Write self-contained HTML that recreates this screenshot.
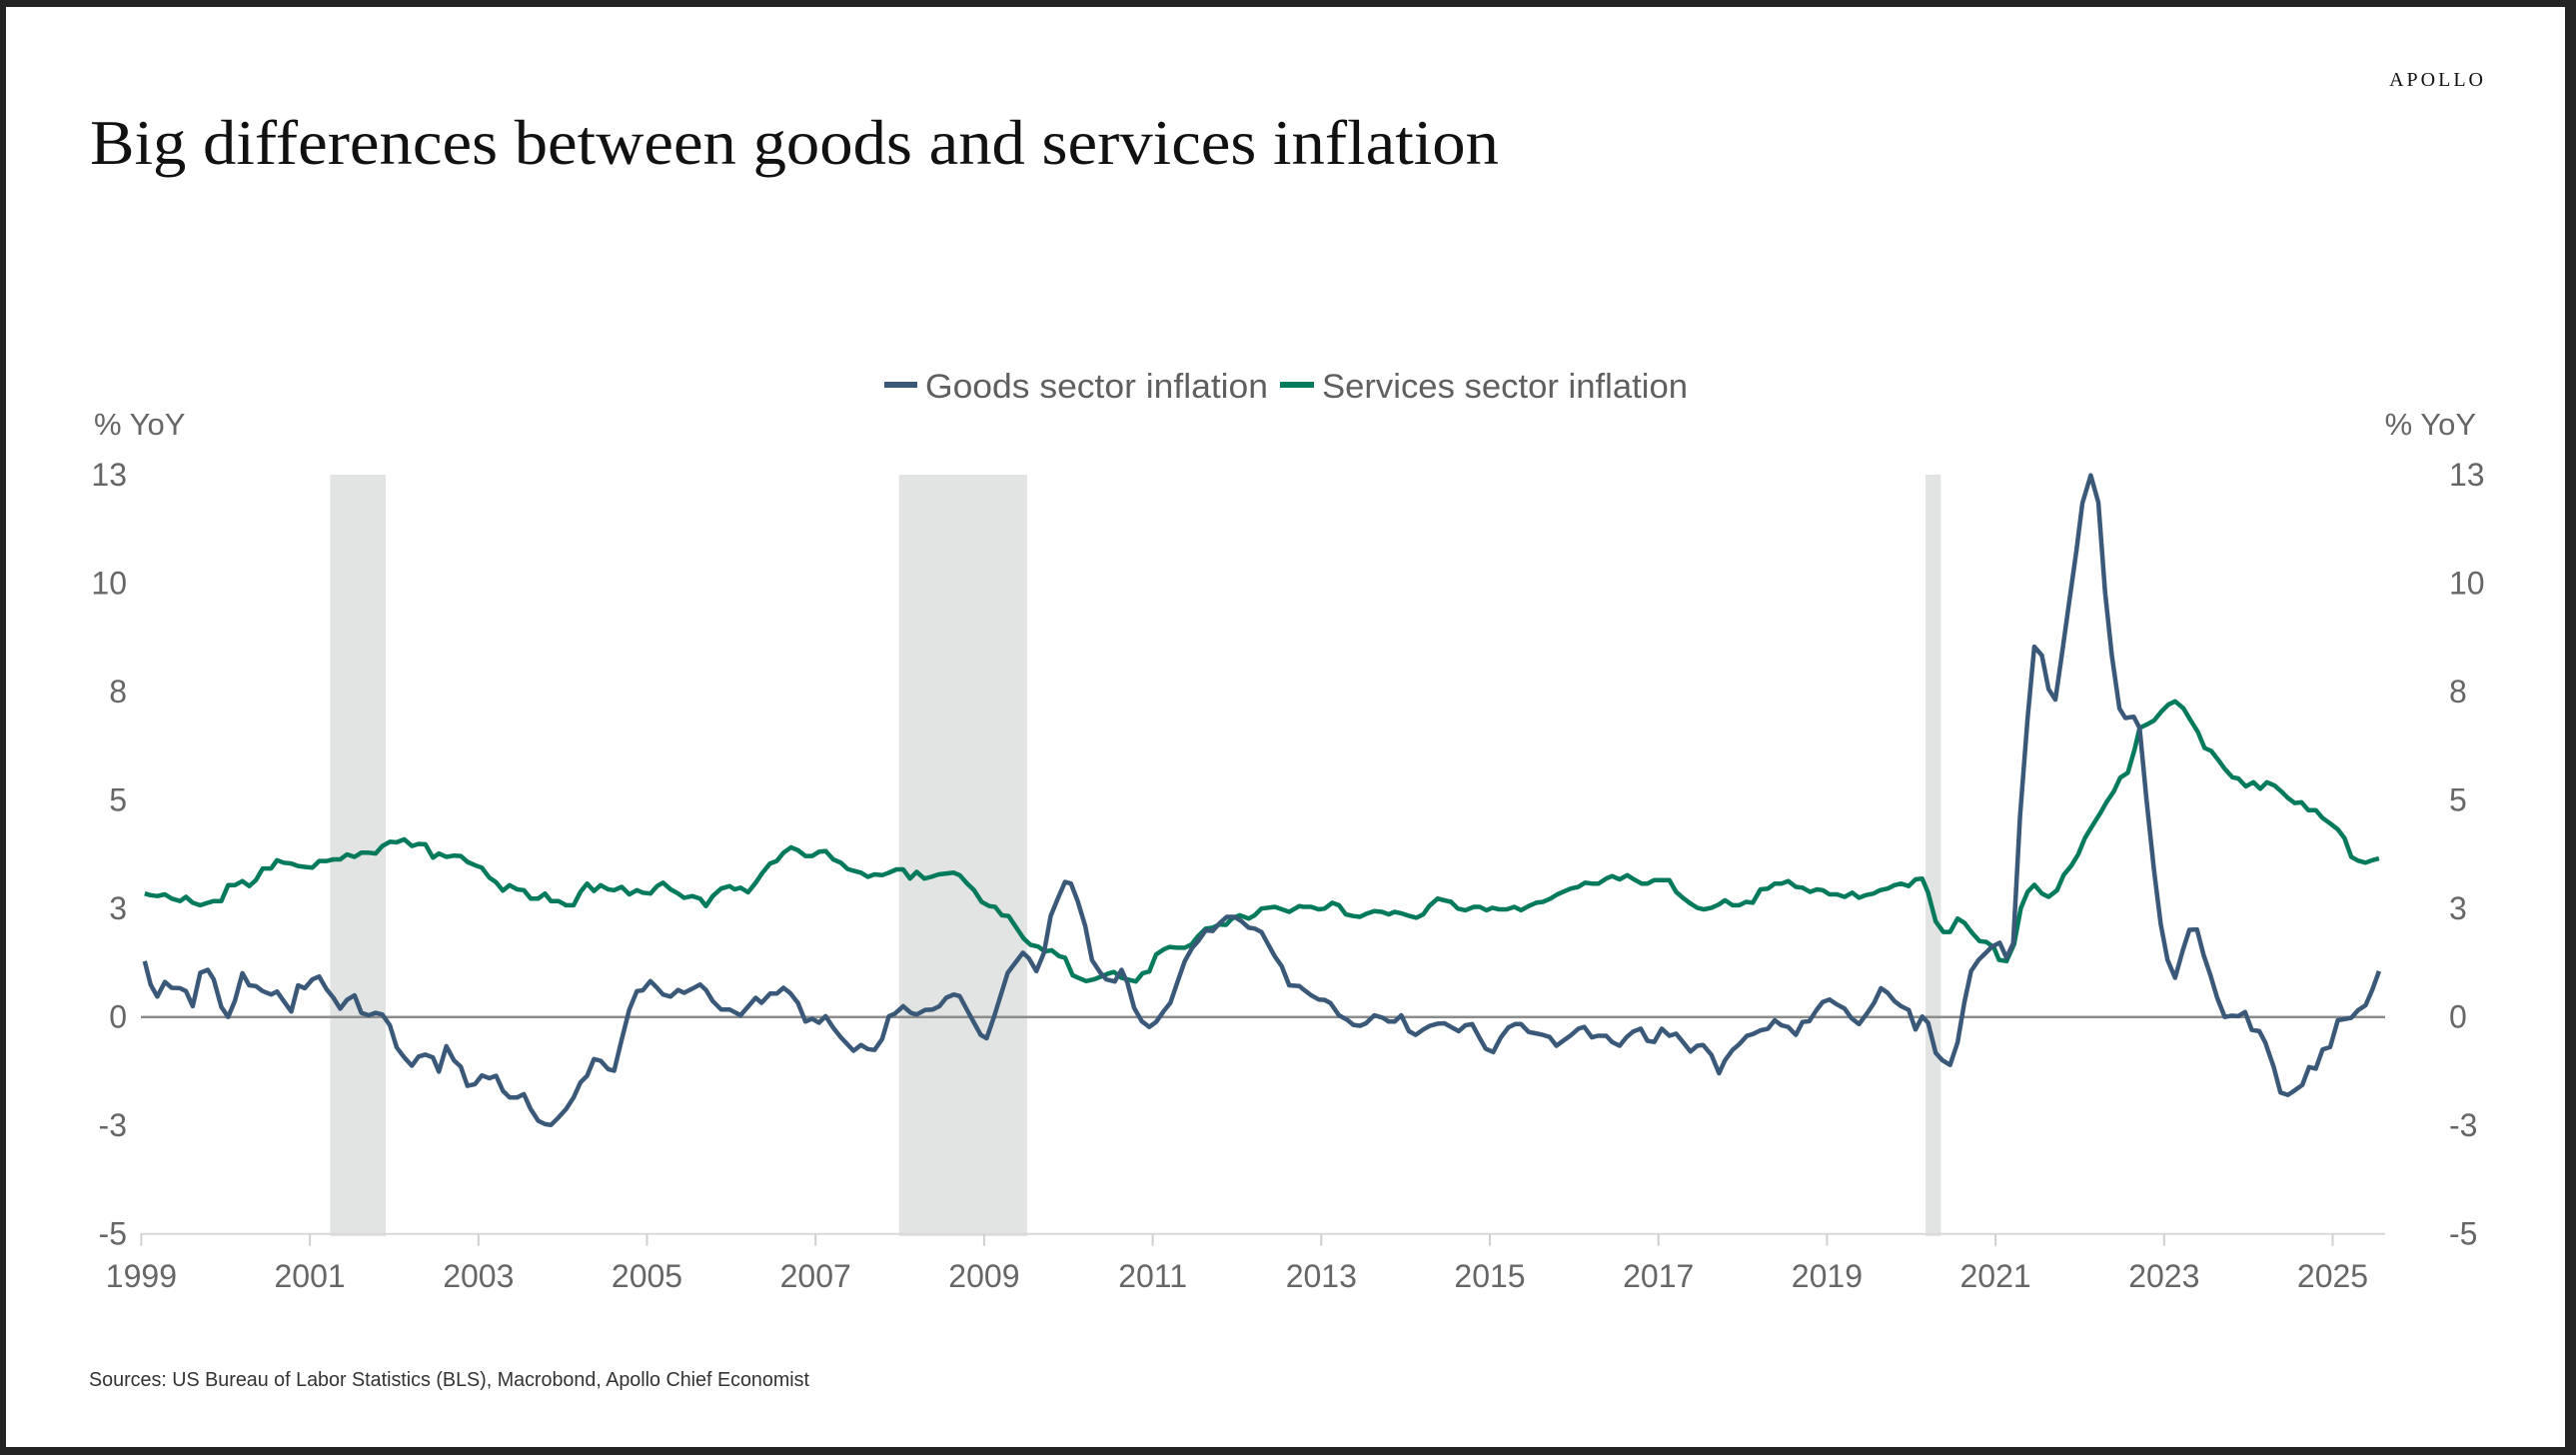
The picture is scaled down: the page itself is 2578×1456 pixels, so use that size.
<!DOCTYPE html>
<html><head><meta charset="utf-8"><style>
html,body{margin:0;padding:0;background:#232323;}
#wrap{position:relative;width:2578px;height:1456px;overflow:hidden;}
svg{display:block;}
</style></head><body>
<div id="wrap">
<svg id="chart" width="2578" height="1456" viewBox="0 0 2578 1456" xmlns="http://www.w3.org/2000/svg">
<rect x="6" y="7" width="2561" height="1441" fill="#ffffff"/>
<text x="90" y="164" font-family="Liberation Serif, serif" font-size="64" fill="#111" textLength="1410" lengthAdjust="spacingAndGlyphs">Big differences between goods and services inflation</text>
<text x="2488" y="86" text-anchor="end" font-family="Liberation Serif, serif" font-size="20" letter-spacing="3" fill="#111">APOLLO</text>
<g>
<line x1="885" y1="385" x2="918" y2="385" stroke="#3a5878" stroke-width="6"/>
<text x="926" y="398" font-family="Liberation Sans, sans-serif" font-size="34" fill="#5f5f5f" textLength="343" lengthAdjust="spacingAndGlyphs">Goods sector inflation</text>
<line x1="1281" y1="385" x2="1315" y2="385" stroke="#047a5c" stroke-width="6"/>
<text x="1323" y="398" font-family="Liberation Sans, sans-serif" font-size="34" fill="#5f5f5f" textLength="366" lengthAdjust="spacingAndGlyphs">Services sector inflation</text>
</g>
<text x="94" y="435" font-family="Liberation Sans, sans-serif" font-size="31" fill="#666">% YoY</text>
<text x="2478" y="435" text-anchor="end" font-family="Liberation Sans, sans-serif" font-size="31" fill="#666">% YoY</text>
<g id="bands"></g>
<g id="axes"></g>
<g id="series"></g>
<text x="89" y="1387" font-family="Liberation Sans, sans-serif" font-size="20" fill="#333" textLength="721" lengthAdjust="spacingAndGlyphs">Sources: US Bureau of Labor Statistics (BLS), Macrobond, Apollo Chief Economist</text>
</svg>
</div>
<script>
const yTicks = [13, 10.4, 7.8, 5.2, 2.6, 0, -2.6, -5.2];
const yTickLabels = ["13", "10", "8", "5", "3", "0", "-3", "-5"];
const xTickYears = [1999, 2001, 2003, 2005, 2007, 2009, 2011, 2013, 2015, 2017, 2019, 2021, 2023, 2025];
const recessionStarts = [2001.24, 2007.99, 2020.17];
const recessionEnds = [2001.90, 2009.51, 2020.35];

const goodsDates = [1999.04,1999.11,1999.19,1999.28,1999.36,1999.46,1999.53,1999.61,1999.70,1999.79,1999.86,1999.95,2000.03,2000.11,2000.20,2000.28,2000.36,2000.44,2000.54,2000.61,2000.69,2000.78,2000.86,2000.94,2001.03,2001.11,2001.20,2001.28,2001.36,2001.44,2001.53,2001.61,2001.70,2001.78,2001.86,2001.95,2002.03,2002.12,2002.21,2002.29,2002.37,2002.46,2002.53,2002.62,2002.71,2002.79,2002.87,2002.96,2003.04,2003.13,2003.21,2003.29,2003.37,2003.46,2003.54,2003.62,2003.71,2003.79,2003.86,2003.95,2004.04,2004.13,2004.21,2004.29,2004.37,2004.45,2004.54,2004.61,2004.70,2004.79,2004.88,2004.95,2005.04,2005.12,2005.19,2005.28,2005.37,2005.44,2005.54,2005.63,2005.70,2005.78,2005.88,2005.98,
2006.11,2006.29,2006.36,2006.46,2006.54,2006.62,2006.70,2006.79,2006.88,2006.96,2007.04,2007.12,2007.21,2007.30,2007.45,2007.54,2007.62,2007.70,2007.79,2007.87,2007.94,2008.04,2008.13,2008.20,2008.30,2008.39,2008.47,2008.55,2008.64,2008.71,2008.80,2008.88,2008.96,2009.03,2009.12,2009.28,2009.46,2009.53,2009.62,2009.71,2009.79,2009.87,2009.96,2010.03,2010.11,2010.20,2010.28,2010.38,2010.45,2010.55,2010.63,2010.70,2010.78,2010.87,2010.96,2011.04,2011.13,2011.21,2011.29,2011.38,2011.47,2011.54,2011.63,2011.71,2011.79,2011.88,2011.97,2012.05,2012.14,2012.21,2012.29,2012.37,2012.45,2012.53,2012.62,2012.74,
2012.79,2012.88,2012.97,2013.04,2013.11,2013.21,2013.31,2013.38,2013.46,2013.53,2013.63,2013.73,2013.80,2013.87,2013.95,2014.04,2014.12,2014.21,2014.29,2014.38,2014.46,2014.55,2014.63,2014.71,2014.79,2014.87,2014.95,2015.04,2015.13,2015.22,2015.30,2015.37,2015.46,2015.54,2015.63,2015.71,2015.79,2015.87,2015.96,2016.05,2016.12,2016.21,2016.28,2016.38,2016.45,2016.54,2016.62,2016.70,2016.79,2016.87,2016.95,2017.04,2017.13,2017.21,2017.29,2017.38,2017.46,2017.53,2017.63,2017.72,2017.79,2017.88,2017.96,2018.05,2018.12,2018.21,2018.30,2018.38,2018.46,2018.54,2018.63,2018.71,2018.79,2018.88,2018.95,2019.03,2019.12,2019.21,2019.29,2019.38,2019.48,2019.56,2019.64,2019.72,2019.80,2019.88,2019.97,2020.05,2020.13,2020.20,
2020.29,2020.37,2020.46,2020.55,2020.63,2020.71,2020.80,2020.88,2020.96,2021.05,2021.13,2021.21,2021.29,2021.38,2021.46,2021.55,2021.63,2021.71,2021.80,2021.87,2021.96,2022.03,2022.13,2022.22,2022.30,2022.38,2022.47,2022.54,2022.64,2022.71,2022.79,2022.88,2022.96,2023.04,2023.13,2023.22,2023.30,2023.39,2023.47,2023.55,2023.63,2023.72,2023.80,2023.88,2023.96,2024.04,2024.13,2024.20,2024.30,2024.38,2024.47,2024.55,2024.64,2024.72,2024.80,2024.88,2024.97,2025.06,2025.14,2025.22,2025.30,2025.39,2025.47,2025.55];
const goodsValues = [1.34,0.78,0.49,0.84,0.70,0.69,0.62,0.26,1.06,1.13,0.90,0.24,0.00,0.38,1.05,0.76,0.74,0.62,0.54,0.61,0.38,0.13,0.76,0.69,0.90,0.97,0.66,0.46,0.20,0.41,0.52,0.10,0.04,0.10,0.06,-0.20,-0.73,-0.97,-1.17,-0.95,-0.90,-0.97,-1.31,-0.70,-1.04,-1.19,-1.65,-1.61,-1.40,-1.47,-1.41,-1.77,-1.93,-1.93,-1.85,-2.21,-2.49,-2.57,-2.59,-2.41,-2.21,-1.93,-1.57,-1.41,-1.01,-1.05,-1.25,-1.29,-0.54,0.18,0.62,0.64,0.86,0.70,0.54,0.49,0.65,0.58,0.68,0.78,0.65,0.38,0.18,0.18,
0.04,0.46,0.34,0.56,0.56,0.70,0.57,0.34,-0.11,-0.04,-0.14,0.02,-0.26,-0.49,-0.81,-0.67,-0.77,-0.79,-0.53,0.02,0.08,0.26,0.10,0.06,0.17,0.18,0.26,0.46,0.54,0.50,0.16,-0.14,-0.43,-0.51,0.02,1.06,1.54,1.41,1.10,1.54,2.42,2.82,3.24,3.20,2.78,2.18,1.36,1.06,0.90,0.85,1.13,0.82,0.22,-0.10,-0.24,-0.12,0.14,0.34,0.82,1.34,1.66,1.82,2.08,2.06,2.24,2.40,2.40,2.30,2.14,2.12,2.04,1.74,1.45,1.22,0.76,0.74,
0.66,0.52,0.42,0.41,0.33,0.04,-0.07,-0.19,-0.21,-0.15,0.04,-0.02,-0.11,-0.11,0.04,-0.34,-0.43,-0.30,-0.21,-0.16,-0.15,-0.25,-0.34,-0.20,-0.17,-0.47,-0.76,-0.84,-0.49,-0.25,-0.17,-0.17,-0.36,-0.39,-0.43,-0.48,-0.69,-0.57,-0.44,-0.28,-0.24,-0.49,-0.45,-0.45,-0.60,-0.69,-0.49,-0.35,-0.28,-0.57,-0.60,-0.28,-0.45,-0.40,-0.60,-0.83,-0.69,-0.67,-0.91,-1.35,-1.04,-0.79,-0.65,-0.45,-0.41,-0.32,-0.28,-0.08,-0.20,-0.24,-0.43,-0.12,-0.10,0.18,0.36,0.42,0.30,0.20,-0.03,-0.17,0.10,0.34,0.69,0.58,0.38,0.26,0.17,-0.30,0.01,-0.14,
-0.86,-1.04,-1.15,-0.61,0.35,1.10,1.37,1.53,1.69,1.78,1.42,1.77,4.81,7.17,8.88,8.67,7.86,7.61,8.88,9.90,11.19,12.32,12.99,12.34,10.17,8.67,7.40,7.17,7.20,6.93,5.23,3.52,2.23,1.37,0.94,1.59,2.09,2.10,1.48,1.00,0.46,0.00,0.03,0.02,0.12,-0.31,-0.34,-0.61,-1.20,-1.81,-1.87,-1.76,-1.63,-1.20,-1.24,-0.78,-0.72,-0.08,-0.05,-0.02,0.16,0.28,0.65,1.10];

const servicesDates = [1999.04,1999.11,1999.19,1999.28,1999.36,1999.46,1999.53,1999.61,1999.70,1999.79,1999.86,1999.95,2000.03,2000.11,2000.20,2000.28,2000.36,2000.44,2000.54,2000.61,2000.69,2000.78,2000.86,2000.94,2001.03,2001.11,2001.20,2001.28,2001.36,2001.44,2001.53,2001.61,2001.70,2001.78,2001.86,2001.95,2002.03,2002.12,2002.21,2002.29,2002.37,2002.46,2002.53,2002.62,2002.71,2002.79,2002.87,2002.96,2003.04,2003.13,2003.21,2003.29,2003.37,2003.46,2003.54,2003.62,2003.71,2003.79,2003.86,2003.95,2004.04,2004.13,2004.21,2004.29,2004.37,2004.45,2004.54,2004.61,2004.70,2004.79,2004.88,2004.95,2005.04,2005.12,2005.19,2005.28,2005.37,2005.44,2005.54,2005.63,2005.70,2005.78,2005.88,2005.98,
2006.04,2006.11,2006.20,2006.29,2006.37,2006.46,2006.54,2006.62,2006.71,2006.79,2006.88,2006.96,2007.04,2007.12,2007.21,2007.30,2007.38,2007.46,2007.54,2007.62,2007.70,2007.79,2007.87,2007.96,2008.04,2008.12,2008.20,2008.29,2008.37,2008.46,2008.55,2008.64,2008.71,2008.80,2008.88,2008.97,2009.06,2009.13,2009.21,2009.29,2009.37,2009.47,2009.55,2009.64,2009.72,2009.80,2009.89,2009.96,2010.05,2010.13,2010.21,2010.30,2010.39,2010.47,2010.54,2010.63,2010.70,2010.80,2010.88,2010.96,2011.04,2011.13,2011.20,2011.29,2011.38,2011.46,2011.54,2011.63,2011.71,2011.79,2011.87,2011.94,2012.03,2012.14,2012.21,2012.29,2012.45,2012.62,2012.74,
2012.79,2012.88,2012.97,2013.04,2013.13,2013.21,2013.29,2013.38,2013.46,2013.54,2013.63,2013.72,2013.80,2013.87,2013.96,2014.05,2014.13,2014.21,2014.28,2014.38,2014.46,2014.54,2014.62,2014.71,2014.81,2014.88,2014.96,2015.03,2015.11,2015.20,2015.29,2015.37,2015.46,2015.55,2015.63,2015.72,2015.80,2015.89,2015.96,2016.05,2016.13,2016.21,2016.29,2016.38,2016.45,2016.54,2016.63,2016.71,2016.80,2016.87,2016.95,2017.04,2017.13,2017.21,2017.29,2017.38,2017.46,2017.54,2017.63,2017.72,2017.79,2017.88,2017.96,2018.04,2018.12,2018.21,2018.30,2018.38,2018.46,2018.54,2018.63,2018.71,2018.80,2018.88,2018.95,2019.03,2019.12,2019.21,2019.30,2019.38,2019.46,2019.55,2019.63,2019.72,2019.80,2019.88,2019.97,2020.05,2020.13,2020.20,
2020.29,2020.38,2020.46,2020.55,2020.63,2020.72,2020.81,2020.89,2020.98,2021.04,2021.13,2021.22,2021.30,2021.38,2021.46,2021.55,2021.63,2021.73,2021.81,2021.90,2021.98,2022.06,2022.15,2022.24,2022.32,2022.40,2022.48,2022.57,2022.65,2022.71,2022.81,2022.88,2022.97,2023.05,2023.13,2023.23,2023.31,2023.40,2023.48,2023.56,2023.64,2023.72,2023.81,2023.88,2023.97,2024.06,2024.14,2024.22,2024.31,2024.39,2024.47,2024.55,2024.63,2024.71,2024.80,2024.88,2024.97,2025.06,2025.14,2025.22,2025.30,2025.39,2025.47,2025.55];
const servicesValues = [2.96,2.92,2.90,2.94,2.84,2.78,2.88,2.74,2.68,2.74,2.78,2.78,3.16,3.16,3.26,3.14,3.28,3.56,3.56,3.76,3.70,3.68,3.62,3.60,3.58,3.74,3.74,3.78,3.78,3.90,3.84,3.94,3.94,3.92,4.10,4.20,4.19,4.26,4.10,4.15,4.14,3.82,3.92,3.84,3.87,3.86,3.72,3.64,3.58,3.34,3.23,3.03,3.16,3.06,3.04,2.84,2.84,2.96,2.78,2.78,2.68,2.68,3.00,3.20,3.02,3.16,3.06,3.04,3.12,2.94,3.04,2.98,2.96,3.14,3.22,3.06,2.96,2.86,2.90,2.84,2.66,2.90,3.08,3.14,
3.06,3.10,2.99,3.22,3.46,3.68,3.74,3.94,4.07,4.00,3.86,3.86,3.96,3.98,3.78,3.70,3.55,3.50,3.46,3.36,3.42,3.40,3.46,3.54,3.54,3.32,3.48,3.32,3.36,3.42,3.44,3.46,3.40,3.20,3.04,2.76,2.66,2.64,2.44,2.42,2.18,1.88,1.73,1.69,1.57,1.60,1.46,1.42,1.00,0.93,0.86,0.90,0.97,1.04,1.08,0.94,0.90,0.85,1.05,1.09,1.50,1.62,1.68,1.66,1.66,1.74,1.94,2.12,2.14,2.22,2.21,2.36,2.44,2.36,2.44,2.60,2.64,2.52,2.66,
2.64,2.64,2.58,2.60,2.74,2.68,2.46,2.42,2.40,2.48,2.54,2.52,2.46,2.52,2.48,2.42,2.38,2.46,2.66,2.84,2.80,2.76,2.60,2.56,2.64,2.64,2.56,2.62,2.58,2.58,2.64,2.56,2.66,2.74,2.76,2.84,2.94,3.02,3.08,3.12,3.22,3.20,3.20,3.32,3.38,3.30,3.40,3.30,3.20,3.20,3.28,3.28,3.28,3.00,2.86,2.72,2.62,2.58,2.62,2.70,2.80,2.68,2.68,2.76,2.74,3.06,3.08,3.20,3.20,3.26,3.12,3.10,3.00,3.06,3.04,2.94,2.94,2.88,2.98,2.86,2.92,2.96,3.04,3.08,3.16,3.20,3.14,3.30,3.32,2.98,
2.29,2.04,2.04,2.36,2.26,2.02,1.82,1.80,1.67,1.37,1.34,1.75,2.61,3.00,3.17,2.96,2.88,3.04,3.41,3.63,3.90,4.29,4.59,4.88,5.16,5.40,5.74,5.86,6.42,6.93,7.03,7.11,7.33,7.49,7.57,7.40,7.13,6.84,6.45,6.38,6.17,5.95,5.75,5.72,5.53,5.63,5.47,5.63,5.55,5.41,5.25,5.13,5.15,4.96,4.96,4.77,4.64,4.50,4.29,3.84,3.75,3.70,3.76,3.80];

const NS = "http://www.w3.org/2000/svg";
const X0 = 141.4, PX_PER_YEAR = 84.35, Y0 = 1017.7, PX_PER_UNIT = 41.73;
const PLOT_LEFT = 141, PLOT_RIGHT = 2387, PLOT_TOP = 475, PLOT_BOTTOM = 1237;
function xScale(d){ return X0 + (d - 1999) * PX_PER_YEAR; }
function yScale(v){ return Y0 - v * PX_PER_UNIT; }
function mk(tag, attrs, parent){
  const el = document.createElementNS(NS, tag);
  for (const k in attrs) el.setAttribute(k, attrs[k]);
  parent.appendChild(el);
  return el;
}
const bands = document.getElementById('bands');
for (let i = 0; i < recessionStarts.length; i++){
  const r = mk('rect', {x: xScale(recessionStarts[i]), y: PLOT_TOP, width: xScale(recessionEnds[i]) - xScale(recessionStarts[i]), height: PLOT_BOTTOM - PLOT_TOP, fill: '#e2e4e3'}, bands);
  
  
}
const axes = document.getElementById('axes');
const zl = mk('line', {x1: PLOT_LEFT, x2: PLOT_RIGHT, y1: yScale(0), y2: yScale(0), stroke: '#8c8c8c', 'stroke-width': 2.5}, axes);


const xa = mk('line', {x1: PLOT_LEFT, x2: PLOT_RIGHT, y1: yScale(-5.2), y2: yScale(-5.2), stroke: '#d9d9d9', 'stroke-width': 2}, axes);


for (let i = 0; i < yTicks.length; i++){
  const yy = yScale(yTicks[i]) + 11;
  const tl = mk('text', {x: 127, y: yy, 'text-anchor': 'end', 'font-family': 'Liberation Sans, sans-serif', 'font-size': 32, fill: '#666'}, axes);
  tl.textContent = yTickLabels[i];
  
  
  const tr = mk('text', {x: 2451, y: yy, 'text-anchor': 'start', 'font-family': 'Liberation Sans, sans-serif', 'font-size': 32, fill: '#666'}, axes);
  tr.textContent = yTickLabels[i];
  
  
}
for (let i = 0; i < xTickYears.length; i++){
  const xx = xScale(xTickYears[i]);
  const tk = mk('line', {x1: xx, x2: xx, y1: yScale(-5.2), y2: yScale(-5.2) + 12, stroke: '#cfcfcf', 'stroke-width': 2}, axes);
  
  
  const lb = mk('text', {x: xx, y: 1288, 'text-anchor': 'middle', 'font-family': 'Liberation Sans, sans-serif', 'font-size': 32, fill: '#666'}, axes);
  lb.textContent = String(xTickYears[i]);
  
  
}
function pathFrom(dates, values){
  let d = '';
  for (let i = 0; i < dates.length; i++){
    d += (i ? 'L' : 'M') + xScale(dates[i]).toFixed(1) + ',' + yScale(values[i]).toFixed(1);
  }
  return d;
}
const series = document.getElementById('series');
const sp = mk('path', {d: pathFrom(servicesDates, servicesValues), fill: 'none', stroke: '#047a5c', 'stroke-width': 4.5, 'stroke-linejoin': 'round'}, series);


const gp = mk('path', {d: pathFrom(goodsDates, goodsValues), fill: 'none', stroke: '#3a5878', 'stroke-width': 4.5, 'stroke-linejoin': 'round'}, series);


</script>
</body></html>
